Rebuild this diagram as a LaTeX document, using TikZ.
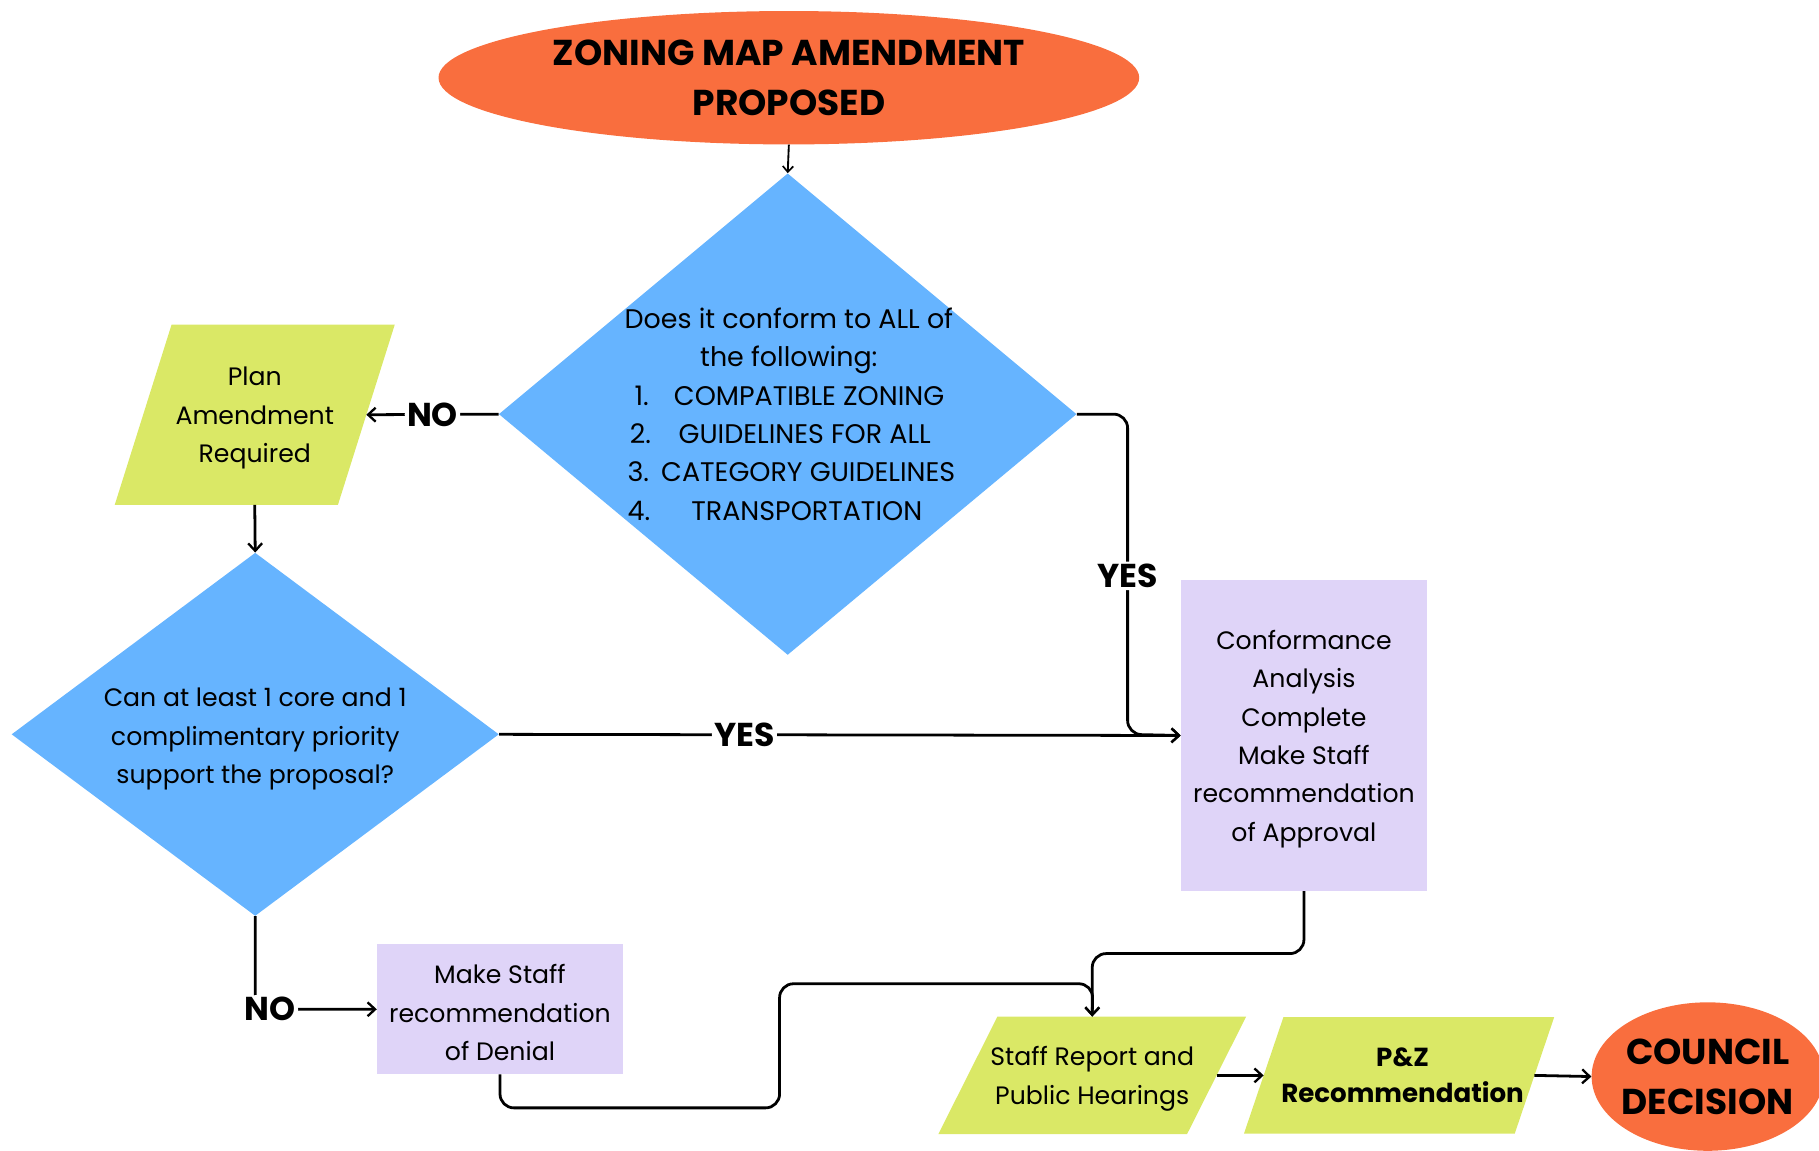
\documentclass[tikz,border=0pt]{standalone}
\usepackage{fontspec}
\setmainfont{Poppins}
\usetikzlibrary{shapes.geometric,arrows.meta}
\definecolor{orng}{RGB}{249,110,62}
\definecolor{dblue}{RGB}{102,180,255}
\definecolor{lgreen}{RGB}{218,232,102}
\definecolor{lav}{RGB}{223,212,248}
\begin{document}
\begin{tikzpicture}[x=1pt,y=-1pt,
  body/.style={font=\fontsize{21.7}{33}\selectfont, align=center, text=black, yshift=-3pt},
  ttl/.style={font=\fontsize{31}{43}\selectfont\bfseries, align=center},
  lbl/.style={font=\fontsize{28.5}{30}\selectfont\bfseries, fill=white, inner sep=2pt},
  dmd/.style={diamond, fill=dblue, inner sep=0pt},
  boxr/.style={rectangle, fill=lav, inner sep=0pt},
  para/.style={rectangle, inner sep=0pt},
  conn/.style={line width=2.4pt, -{Straight Barb[length=6.5pt,width=12pt,line width=2pt]}, rounded corners=12pt},
]
\useasboundingbox (0,0) rectangle (1568,992);
\clip (0,0) rectangle (1568,992);

% shapes
\node[ellipse, fill=orng, minimum width=604pt, minimum height=115pt, inner sep=0pt] (prop) at (680,67) {};
\node[ttl] at (680,67) {ZONING MAP AMENDMENT\\PROPOSED};

\node[dmd, minimum width=498pt, minimum height=415pt] (d1) at (679,357) {};
\node[body, font=\fontsize{23.2}{33}\selectfont, yshift=3pt] at (680,357) {Does it conform to ALL of\\the following:\\
  \makebox[300pt][l]{\hspace*{17pt}\makebox[34pt][l]{1.}COMPATIBLE ZONING}\\
  \makebox[300pt][l]{\hspace*{13pt}\makebox[42pt][l]{2.}GUIDELINES FOR ALL}\\
  \makebox[300pt][l]{\hspace*{11pt}\makebox[29pt][l]{3.}CATEGORY GUIDELINES}\\
  \makebox[300pt][l]{\hspace*{11pt}\makebox[55pt][l]{4.}TRANSPORTATION}};

\node[para, minimum width=192pt, minimum height=155pt] (plan) at (219.6,357.5) {};
\fill[lgreen] ([xshift=-24.5pt]plan.south west) -- ([xshift=24.5pt]plan.north west) -- ([xshift=24.5pt]plan.north east) -- ([xshift=-24.5pt]plan.south east) -- cycle;
\node[body] at (plan.center) {Plan\\Amendment\\Required};

\node[dmd, minimum width=420pt, minimum height=313pt] (d2) at (220,633) {};
\node[body] at (220,634) {Can at least 1 core and 1\\complimentary priority\\support the proposal?};

\node[boxr, minimum width=212pt, minimum height=268pt] (conf) at (1124,634) {};
\node[body] at (conf.center) {Conformance\\Analysis\\Complete\\Make Staff\\recommendation\\of Approval};

\node[boxr, minimum width=212pt, minimum height=112pt] (deny) at (431,870) {};
\node[body] at (deny.center) {Make Staff\\recommendation\\of Denial};

\node[para, minimum width=214pt, minimum height=101pt] (staff) at (941.5,927) {};
\fill[lgreen] ([xshift=-25.5pt]staff.south west) -- ([xshift=25.5pt]staff.north west) -- ([xshift=25.5pt]staff.north east) -- ([xshift=-25.5pt]staff.south east) -- cycle;
\node[body] at (staff.center) {Staff Report and\\Public Hearings};

\node[para, minimum width=233pt, minimum height=100pt] (pz) at (1206,927) {};
\fill[lgreen] ([xshift=-17pt]pz.south west) -- ([xshift=17pt]pz.north west) -- ([xshift=17pt]pz.north east) -- ([xshift=-17pt]pz.south east) -- cycle;
\node[body, font=\fontsize{22.5}{31}\selectfont\bfseries, xshift=3pt, yshift=3pt] at (pz.center) {P\&Z\\Recommendation};

\node[ellipse, fill=orng, minimum width=200pt, minimum height=128pt, inner sep=0pt] (council) at (1472,928) {};
\node[ttl, font=\fontsize{31}{43}\selectfont\bfseries] at (council.center) {COUNCIL\\DECISION};

% connectors
\draw[line width=1.6pt, -{Straight Barb[length=5pt,width=9pt,line width=1.4pt]}] (prop.south) -- (d1.north);
\draw[conn] (d1.west) -- node[lbl, pos=0.5] {NO} (plan.east);
\draw[conn] (plan.south) -- (d2.north);
\draw[conn] (d1.east) -- (972,357) -- node[lbl, pos=0.505] {YES} (972,633) -- (conf.west);
\draw[conn] (d2.east) -- node[lbl, pos=0.36] {YES} (conf.west);
\draw[conn] (d2.south) |- node[lbl, pos=0.5, xshift=13pt] {NO} (deny.west);
\draw[conn] (conf.south) -- (1124,822) -| (staff.north);
\draw[conn] (deny.south) -- (431,955) -- (672,955) -- (672,848) -- (942,848) -- (staff.north);
\draw[conn] (staff.east) -- (pz.west);
\draw[conn] (pz.east) -- (council.west);
\end{tikzpicture}
\end{document}
